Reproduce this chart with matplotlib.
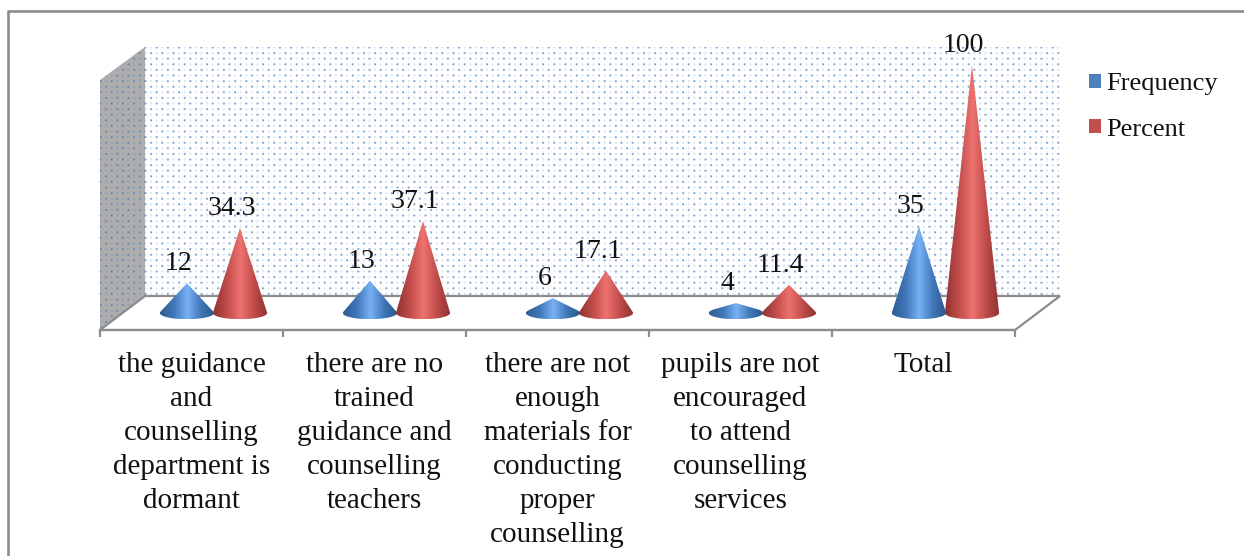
import numpy as np
import matplotlib
matplotlib.use("Agg")
import matplotlib.pyplot as plt
from matplotlib.colors import LinearSegmentedColormap, to_rgb
from matplotlib.patches import Patch, PathPatch, Polygon
from matplotlib.path import Path

plt.rcParams["font.family"] = ["Liberation Serif", "DejaVu Serif"]

# Chart data
categories = [
    "the guidance\nand\ncounselling\ndepartment is\ndormant",
    "there are no\ntrained\nguidance and\ncounselling\nteachers",
    "there are not\nenough\nmaterials for\nconducting\nproper\ncounselling",
    "pupils are not\nencouraged\nto attend\ncounselling\nservices",
    "Total",
]
frequency = [12, 13, 6, 4, 35]
percent = [34.3, 37.1, 17.1, 11.4, 100]
value_labels_freq = ["12", "13", "6", "4", "35"]
value_labels_pct = ["34.3", "37.1", "17.1", "11.4", "100"]

W, H = 1244, 556
GREY = "#8c8c8c"

fig = plt.figure(figsize=(W / 100, H / 100), dpi=100)


def dots(width, height, base):
    # staggered dot texture used on the chart walls
    yy, xx = np.mgrid[0:height, 0:width]
    u, v = xx / 5.6, yy / 5.6
    ru, rv = np.round(u), np.round(v)
    d = np.hypot(u - ru, v - rv) * 5.6
    strength = np.where((ru + rv) % 2 == 0, 0.62, 0.18)
    a = (np.clip(1.6 - d, 0, 1) * strength)[..., None]
    return (1 - a) * np.array(to_rgb(base)) + a * np.array(to_rgb("#3f78bd"))


# Background layer in pixel coordinates: frame, walls and floor
bg = fig.add_axes([0, 0, 1, 1])
bg.imshow(dots(915, 249, "white"), extent=[145, 1060, 296, 47], interpolation="nearest", aspect="auto")
side = bg.imshow(dots(45, 283, "#adadad"), extent=[100, 145, 330, 47], interpolation="nearest", aspect="auto")
side_clip = Polygon([(100, 80), (145, 47), (145, 296), (100, 330)], transform=bg.transData,
                    fc="none", ec="none")
bg.add_patch(side_clip)
side.set_clip_path(side_clip)
bg.add_patch(Polygon([(100, 330), (145, 296), (1060, 296), (1015, 330)],
                     facecolor="white", edgecolor=GREY, lw=1.6))
bg.plot([8, 8, W], [H, 11, 11], color=GREY, lw=1.9)
bg.set_xlim(0, W)
bg.set_ylim(H, 0)
bg.axis("off")

# Data layer: x in category units, y in value units
ax = fig.add_axes([100 / W, 1 - 330 / H, 915 / W, 283 / H])
ax.patch.set_alpha(0)
for name in ["top", "right", "left"]:
    ax.spines[name].set_visible(False)
ax.spines["bottom"].set_color(GREY)
ax.spines["bottom"].set_linewidth(1.6)
ax.set_yticks([])

x = np.arange(len(categories))
ax.set_xticks(np.arange(len(categories) + 1) - 0.5)
ax.set_xticklabels([])
ax.set_xticks(x, categories, minor=True)
ax.tick_params(axis="x", which="major", length=5, width=1.6, color=GREY)
ax.tick_params(axis="x", which="minor", length=0, pad=16, labelsize=21, labelcolor="#111111")
for lab in ax.get_xticklabels(minor=True):
    lab.set_linespacing(1.4)
    lab.set_verticalalignment("top")

blue_cmap = LinearSegmentedColormap.from_list(
    "b", ["#2d5c92", "#4077b8", "#78b2f5", "#4077b8", "#2a5688"])
red_cmap = LinearSegmentedColormap.from_list(
    "r", ["#8f3331", "#c04c4a", "#ee7270", "#c04c4a", "#8b3230"])

HALF_W = 0.148   # cone half width, category units
BASE_H = 2.5     # half height of the base ellipse, value units


def cone(cx, value, cmap):
    # outline: apex, then the base ellipse between the two tangent points
    t0 = np.arcsin(BASE_H / value)
    t = np.linspace(t0, -np.pi - t0, 60)
    ex = cx + HALF_W * np.cos(t)
    ey = BASE_H * np.sin(t)
    verts = [(cx, value)] + list(zip(ex, ey)) + [(cx, value)]
    codes = [Path.MOVETO] + [Path.LINETO] * (len(verts) - 2) + [Path.CLOSEPOLY]
    clip = PathPatch(Path(verts, codes), transform=ax.transData, fc="none", ec="none")
    ax.add_patch(clip)
    grad = np.linspace(0, 1, 128).reshape(1, -1)
    im = ax.imshow(grad, cmap=cmap, extent=[cx - HALF_W, cx + HALF_W, -BASE_H, value],
                   aspect="auto", zorder=3, interpolation="bilinear")
    im.set_clip_path(clip)


SHIFT = 0.12
OFFSET = 0.145
for i in x:
    cone(i + SHIFT - OFFSET, frequency[i], blue_cmap)
    cone(i + SHIFT + OFFSET, percent[i], red_cmap)
    ax.annotate(value_labels_freq[i], (i + SHIFT - OFFSET, frequency[i]), xytext=(-6, 14),
                textcoords="offset points", ha="center", va="center", fontsize=20,
                color="#111111", annotation_clip=False, zorder=5)
    ax.annotate(value_labels_pct[i], (i + SHIFT + OFFSET, percent[i]), xytext=(-6, 14),
                textcoords="offset points", ha="center", va="center", fontsize=20,
                color="#111111", annotation_clip=False, zorder=5)
ax.set_xlim(-0.5, 4.5)
ax.set_ylim(-6.85, 107.3)

handles = [Patch(facecolor="#4f81bd", label="Frequency"),
           Patch(facecolor="#c0504d", label="Percent")]
fig.legend(handles=handles, loc="upper left", bbox_to_anchor=(1089 / W, 1 - 73 / H),
           frameon=False, fontsize=19, handlelength=0.45, handleheight=0.45,
           handletextpad=0.2, labelspacing=0.9, borderpad=0, borderaxespad=0,
           labelcolor="#111111")

fig.savefig("out.png", dpi=100)
